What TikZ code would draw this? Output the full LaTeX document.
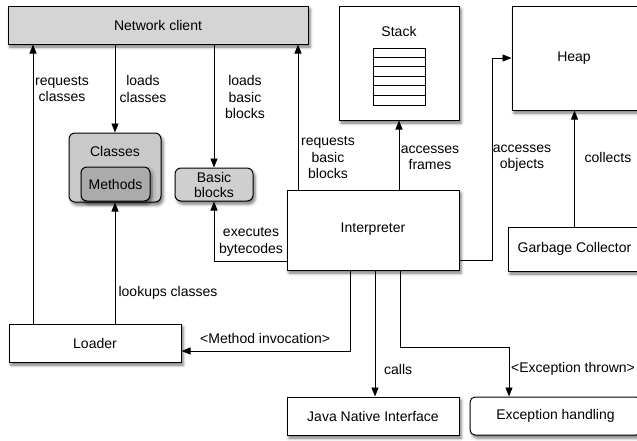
\documentclass[tikz,border=0pt]{standalone}
\usepackage{fontspec}
\setmainfont{Liberation Sans}
\usetikzlibrary{arrows.meta,shadows.blur}

\tikzset{
  box/.style={draw=black, line width=1pt, fill=white, inner sep=0pt,
    blur shadow={shadow xshift=2pt, shadow yshift=-3pt, shadow blur radius=3pt, shadow opacity=55}},
  graybox/.style={box, fill=#1, rounded corners=6pt},
  lbl/.style={align=center, inner sep=0pt},
  arr/.style={line width=0.9pt, -{Triangle[length=9pt,width=7pt]}},
  wire/.style={line width=0.9pt},
}

\begin{document}
\begin{tikzpicture}[x=1pt, y=-1pt, font=\fontsize{14}{16.5}\selectfont]
\useasboundingbox (0,0) rectangle (637,440);

% --- boxes ---
\node[box, fill=gray!33, minimum width=300, minimum height=38] (net) at (158,25) {Network client};

\node[box, minimum width=120, minimum height=114] (stack) at (399,63) {};
\node[lbl] (stacktitle) at (399,31) {Stack};
\node[draw, line width=0.8pt, fill=white, minimum width=52, minimum height=57, inner sep=0pt] (frames) at (399,76.5) {};
\foreach \k in {1,...,5}
  \draw[line width=0.8pt] ([yshift=-9.5*\k pt]frames.north west) -- ([yshift=-9.5*\k pt]frames.north east);

\node[box, minimum width=128, minimum height=104] (heap) at (576,58) {};
\node[lbl] (heaptitle) at (574,58) {Heap};

\node[graybox=gray!42, minimum width=92, minimum height=69] (classes) at (115,167.5) {};
\node[lbl] (classestitle) at (115,151) {Classes};
\node[graybox=gray!66, minimum width=69, minimum height=34] (methods) at (115.5,184) {Methods};
\node[graybox=gray!38, minimum width=78, minimum height=33, align=center] (basic) at (214,184.5) {Basic\\[-1.5pt]blocks};

\node[box, minimum width=172, minimum height=80] (interp) at (373,230) {};
\node[lbl] (interptitle) at (373,229) {Interpreter};

\node[box, minimum width=133, minimum height=44] (gc) at (574.5,249) {Garbage Collector};
\node[box, minimum width=172, minimum height=38] (loader) at (95,343) {Loader};
\node[box, minimum width=172, minimum height=38] (jni) at (373,416) {Java Native Interface};
\node[box, rounded corners=5pt, minimum width=171, minimum height=38] (exc) at (555.5,416) {Exception handling};

% --- bend points ---
\coordinate (reqc) at (33,0);
\coordinate (reqb) at (298,0);
\coordinate (objturn) at (492,260);
\coordinate (execturn) at (214,261);
\coordinate (mi) at (350,351);
\coordinate (callx) at (375,0);
\coordinate (ex1) at (400,347);
\coordinate (ex2) at (509,347);

% --- connectors ---
\draw[arr] (reqc |- loader.north) -- (reqc |- net.south);
\draw[arr] (classes.north |- net.south) -- (classes.north);
\draw[arr] (basic.north |- net.south) -- (basic.north);
\draw[arr] (reqb |- interp.north) -- (reqb |- net.south);
\draw[arr] (stack.south |- interp.north) -- (stack.south);
\draw[arr] (interp.east |- objturn) -- (objturn) |- (heap.west);
\draw[arr] (gc.north) -- (gc.north |- heap.south);
\draw[arr] (interp.west |- execturn) -| (basic.south);
\draw[arr] (classes.south |- loader.north) -- (classes.south);
\draw[arr] (mi |- interp.south) -- (mi) -- (mi -| loader.east);
\draw[arr] (callx |- interp.south) -- (callx |- jni.north);
\draw[arr] (ex1 |- interp.south) -- (ex1) -- (ex2) -- (ex2 |- exc.north);

% --- labels ---
\node[lbl] (lreqc) at (62,89) {requests\\classes};
\node[lbl] (lloadc) at (143,89) {loads\\classes};
\node[lbl] (lloadb) at (245,97) {loads\\basic\\blocks};
\node[lbl] (lreqb) at (328,158) {requests\\basic\\blocks};
\node[lbl] (lframes) at (430,158) {accesses\\frames};
\node[lbl] (lobj) at (522,158) {accesses\\objects};
\node[lbl] (lcoll) at (608,157) {collects};
\node[lbl] (lexec) at (251,242) {executes\\bytecodes};
\node[lbl] (llook) at (168,293) {lookups classes};
\node[lbl, anchor=west] (lmi) at (200,338) {<Method invocation>};
\node[lbl, anchor=west] (lcalls) at (384,369) {calls};
\node[lbl, anchor=west] (lexc) at (511,369) {<Exception thrown>};
\end{tikzpicture}
\end{document}
